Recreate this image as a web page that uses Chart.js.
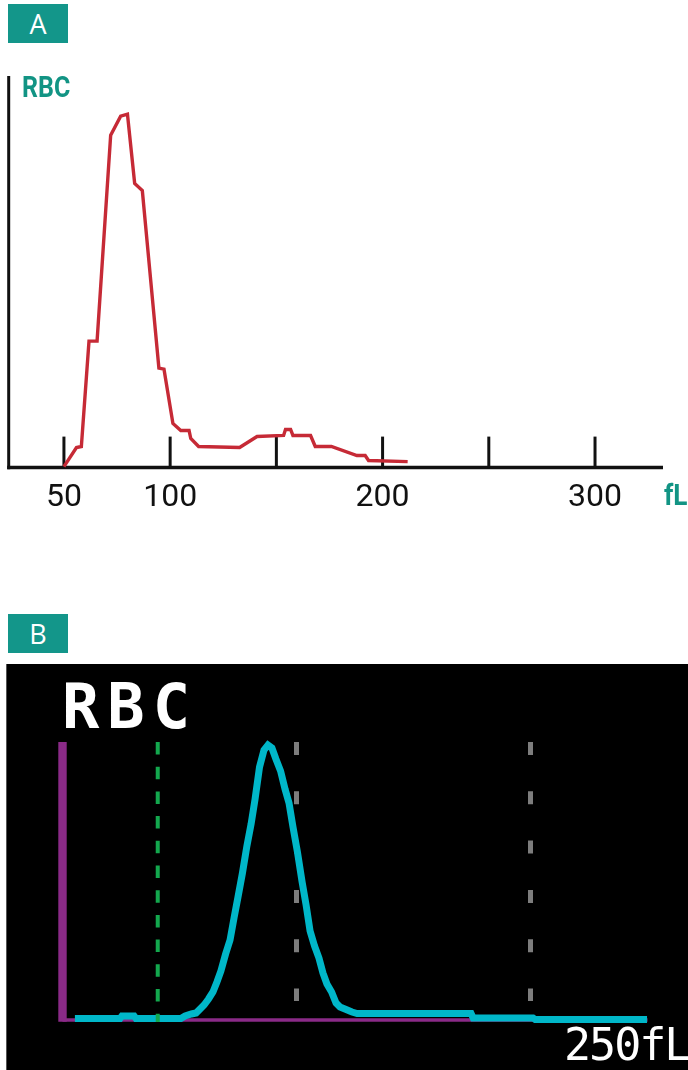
<!DOCTYPE html>
<html><head><meta charset="utf-8">
<script src="https://cdn.jsdelivr.net/npm/chart.js@4.4.1/dist/chart.umd.min.js"></script>
<style>
html,body{margin:0;padding:0;background:#fff;width:688px;height:1070px;overflow:hidden;position:relative;}
.tag{position:absolute;left:8px;width:60px;height:39px;background:#13968a;color:#fff;font:27px 'Open Sans',sans-serif;text-align:center;line-height:39px;}
#tagA{top:4px}
#tagB{top:614px}
#cA{position:absolute;left:0;top:0}
#panelB{position:absolute;left:6px;top:664px;width:682px;height:406px;background:#000;border-left:1px solid #555;box-sizing:border-box}
#cB{position:absolute;left:0;top:664px}
.lbl{position:absolute;white-space:nowrap;z-index:5}
#rbcA{left:22px;top:73px;font:bold 29px/29px 'Roboto',sans-serif;color:#129484;transform:scaleX(0.86);transform-origin:0 0}
#flA{left:664px;top:481px;font:bold 29px/29px 'Roboto',sans-serif;color:#129484;transform:scaleX(0.9);transform-origin:0 0}
#rbcB{left:62px;top:676px;font:bold 62px/62px 'DejaVu Sans Mono',monospace;letter-spacing:8px;color:#fff}
#flB{left:564px;top:1022px;font:45px/45px 'DejaVu Sans Mono',monospace;letter-spacing:-2px;color:#fff}
</style></head>
<body>
<div class="tag" id="tagA">A</div>
<div class="tag" id="tagB">B</div>
<canvas id="cA" width="688" height="560"></canvas>
<div id="panelB"></div>
<canvas id="cB" width="688" height="406"></canvas>
<div class="lbl" id="rbcA">RBC</div>
<div class="lbl" id="flA">fL</div>
<div class="lbl" id="rbcB">RBC</div>
<div class="lbl" id="flB">250fL</div>
<script>
// ---- Panel A data (volume in fL, relative count) ----
const redSizes  = [50, 55.9, 58.2, 61.8, 65.6, 72.0, 76.7, 79.9, 83.3, 86.9, 94.7, 97.1, 101.3, 105.0, 108.9, 109.7, 113.4, 132.7, 140.9, 153.4, 154.3, 156.7, 157.8, 166.1, 168.3, 175.9, 187.9, 191.8, 193.4, 211.8];
const redCounts = [1, 20, 21, 126, 126, 331, 350, 352, 283, 276, 99, 98, 44, 37, 37, 29, 21, 20, 31, 32, 38, 38, 32, 32, 21, 21, 12, 12, 7, 6];
const aTickValues = [50, 100, 150, 200, 250, 300];
const aTickLabels = ['50', '100', '', '200', '', '300'];

// ---- Panel B data ----
const cyanSizes  = [5.3, 24.6, 25.4, 30.6, 31.4, 50.6, 52.4, 55.1, 57.1, 58.8, 60.5, 62.4, 64.3, 66.0, 67.7, 69.7, 71.6, 73.3, 75.0, 76.9, 78.8, 80.6, 82.3, 84.2, 86.1, 87.8, 89.5, 91.2, 93.2, 95.1, 96.8, 98.5, 100.4, 102.4, 104.1, 105.8, 107.7, 109.6, 111.3, 113.0, 115.0, 116.9, 118.6, 121.2, 123.7, 125.9, 174.6, 175.5, 201.1, 202.0, 249.8];
const cyanCounts = [1.5, 1.5, 4, 4, 1.5, 1.5, 4, 6, 7, 11, 15, 21, 28, 38, 49, 66, 80, 102, 123, 147, 174, 196, 221, 253, 270, 275, 272, 261, 249, 231, 217, 193, 168, 138, 115, 89, 74, 62, 47, 36, 28, 17, 13, 10.5, 8, 6.5, 6.5, 2, 2, 0.5, 0.5];
const greenMarker = 40.7;
const greyMarkers = [100, 200];
const bXMax = 250;
const bYMax = 278;

Chart.defaults.animation = false;

const axesA = {
  id: 'axesA',
  beforeDatasetsDraw(chart) {
    const {ctx, chartArea, scales} = chart;
    const {left, top, bottom, right} = chartArea;
    ctx.save();
    ctx.strokeStyle = '#111';
    ctx.lineCap = 'butt';
    ctx.lineWidth = 3;
    ctx.beginPath(); ctx.moveTo(left, top); ctx.lineTo(left, bottom + 1.7); ctx.stroke();
    ctx.lineWidth = 3.5;
    ctx.beginPath(); ctx.moveTo(left - 1.5, bottom); ctx.lineTo(right, bottom); ctx.stroke();
    ctx.lineWidth = 3;
    aTickValues.forEach(v => {
      const px = scales.x.getPixelForValue(v);
      ctx.beginPath(); ctx.moveTo(px, bottom); ctx.lineTo(px, bottom - 31); ctx.stroke();
    });
    ctx.restore();
  }
};

new Chart(document.getElementById('cA'), {
  type: 'line',
  data: {
    datasets: [{
      data: redSizes.map((s, i) => ({x: s, y: redCounts[i]})),
      borderColor: '#c62a36',
      borderWidth: 3.4,
      pointRadius: 0,
      tension: 0,
      fill: false,
      clip: false,
      borderJoinStyle: 'miter'
    }]
  },
  options: {
    responsive: false,
    devicePixelRatio: 1,
    layout: {padding: {left: 8.7, right: 25, top: 76, bottom: 32}},
    plugins: {legend: {display: false}, tooltip: {enabled: false}},
    scales: {
      x: {
        type: 'linear', min: 24, max: 332,
        grid: {display: false, drawTicks: false},
        border: {display: false},
        afterBuildTicks: s => { s.ticks = aTickValues.map(v => ({value: v})); },
        ticks: {
          autoSkip: false, maxRotation: 0, padding: 11,
          color: '#111',
          font: {family: "'Roboto', sans-serif", size: 32},
          callback: (v) => { const i = aTickValues.indexOf(v); return i >= 0 ? aTickLabels[i] : ''; }
        }
      },
      y: {type: 'linear', min: 0, max: 390, display: false}
    }
  },
  plugins: [axesA]
});

const vline = (x, yTop, yBot, color, width, dash, order) => ({
  data: [{x: x, y: yTop}, {x: x, y: yBot}],
  borderColor: color, borderWidth: width, borderDash: dash || [],
  pointRadius: 0, tension: 0, fill: false, clip: false, order: order,
  borderCapStyle: 'butt'
});

new Chart(document.getElementById('cB'), {
  type: 'line',
  data: {
    datasets: [
      vline(greenMarker, bYMax, -2, '#13a84e', 4, [12.5, 12.2], 0),
      {
        data: cyanSizes.map((s, i) => ({x: s, y: cyanCounts[i]})),
        borderColor: '#00b7c9', borderWidth: 7, pointRadius: 0, tension: 0,
        fill: false, clip: false, order: 1, borderJoinStyle: 'miter'
      },
      ...greyMarkers.map(g => vline(g, bYMax, 19, '#7d7d7d', 5, [13, 36.3], 2)),
      {
        data: [{x: 0, y: 0}, {x: bXMax, y: 0}],
        borderColor: '#8a2a87', borderWidth: 3.4, pointRadius: 0, tension: 0,
        fill: false, clip: false, order: 3, borderCapStyle: 'butt'
      },
      vline(0, bYMax, -1.7, '#8a2a87', 8.4, [], 3)
    ]
  },
  options: {
    responsive: false,
    devicePixelRatio: 1,
    layout: {padding: {left: 62.5, right: 40.5, top: 78, bottom: 50}},
    plugins: {legend: {display: false}, tooltip: {enabled: false}},
    scales: {
      x: {type: 'linear', min: 0, max: bXMax, display: false},
      y: {type: 'linear', min: 0, max: bYMax, display: false}
    }
  }
});
</script>
</body></html>
